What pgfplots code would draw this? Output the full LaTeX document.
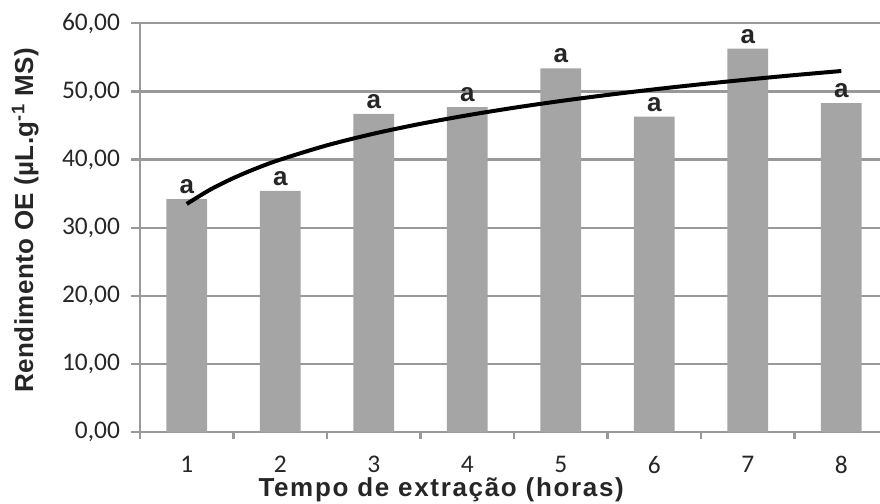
\documentclass[border=0pt]{standalone}
\usepackage{fontspec}
\setmainfont{Liberation Sans}
\newfontfamily\calibri{Carlito}
\newfontfamily\titlefont[LetterSpace=6.4]{Liberation Sans}
\newfontfamily\ytitlefont[LetterSpace=1.5]{Liberation Sans}
\usepackage{pgfplots}
\pgfplotsset{compat=1.18}
\definecolor{barc}{HTML}{A5A5A5}
\definecolor{gridc}{HTML}{999999}
\begin{document}
\begin{tikzpicture}
\begin{axis}[
  scale only axis,
  width=370pt, height=204.5pt,
  xmin=0.5, xmax=8.414,
  ymin=0, ymax=60,
  ytick={0,10,...,60},
  xtick={1,...,8},
  minor xtick={0.5,1.5,...,7.5},
  axis x line*=bottom, axis y line*=left,
  axis line style={gridc, line width=1.2pt, -},
  ymajorgrids,
  major grid style={gridc, line width=1.2pt},
  tick align=outside,
  major tick length=4.5pt,
  minor tick length=3.5pt,
  every tick/.style={gridc, line width=1.2pt},
  xtick style={draw=none},
  minor x tick style={draw=gridc, line width=1.2pt},
  /pgf/number format/.cd, fixed, fixed zerofill, precision=2, use comma, assume math mode=true,
  /pgfplots/.cd,
  ticklabel style={font=\calibri\fontsize{12.7}{14}\selectfont, text=black!85},
  yticklabel style={xshift=-2pt},
  xticklabel style={yshift=-4pt},
  xticklabel={\pgfmathprintnumber[precision=0,fixed zerofill=false]{\tick}},
  xlabel={Tempo de extração (horas)},
  xlabel style={font=\titlefont\bfseries\fontsize{13}{14}\selectfont, text=black!85, at={(axis description cs:0.407,-0.158)}, anchor=base},
  ylabel={Rendimento OE (\textmu L.g\textsuperscript{-1} MS)},
  ylabel style={font=\ytitlefont\bfseries\fontsize{13}{14}\selectfont, text=black!85, at={(axis description cs:-0.155,0.519)}, anchor=center},
  clip=false,
]
\addplot[ybar, bar width=20.35pt, fill=barc, draw=none,
  nodes near coords={a},
  every node near coord/.append style={font=\bfseries\fontsize{13}{14}\selectfont, text=black!85, yshift=-1pt}]
  coordinates {(1,34.2) (2,35.4) (3,46.7) (4,47.7) (5,53.4) (6,46.3) (7,56.3) (8,48.3)};
\addplot[black, line width=2pt, smooth] coordinates {
 (1,33.50) (1.25,35.59) (1.5,37.30) (1.75,38.75) (2,40.00) (2.5,42.10) (3,43.81) (3.5,45.25)
 (4,46.50) (4.5,47.61) (5,48.60) (5.5,49.49) (6,50.31) (6.5,51.06) (7,51.75) (7.5,52.40) (8,53.00)};
\coordinate (ll) at (rel axis cs:0,0);
\coordinate (ur) at (rel axis cs:1,1);
\end{axis}
\pgfresetboundingbox
\path ([shift={(-70pt,-35.85pt)}]ll) rectangle ([shift={(0pt,11.65pt)}]ur);
\end{tikzpicture}
\end{document}
